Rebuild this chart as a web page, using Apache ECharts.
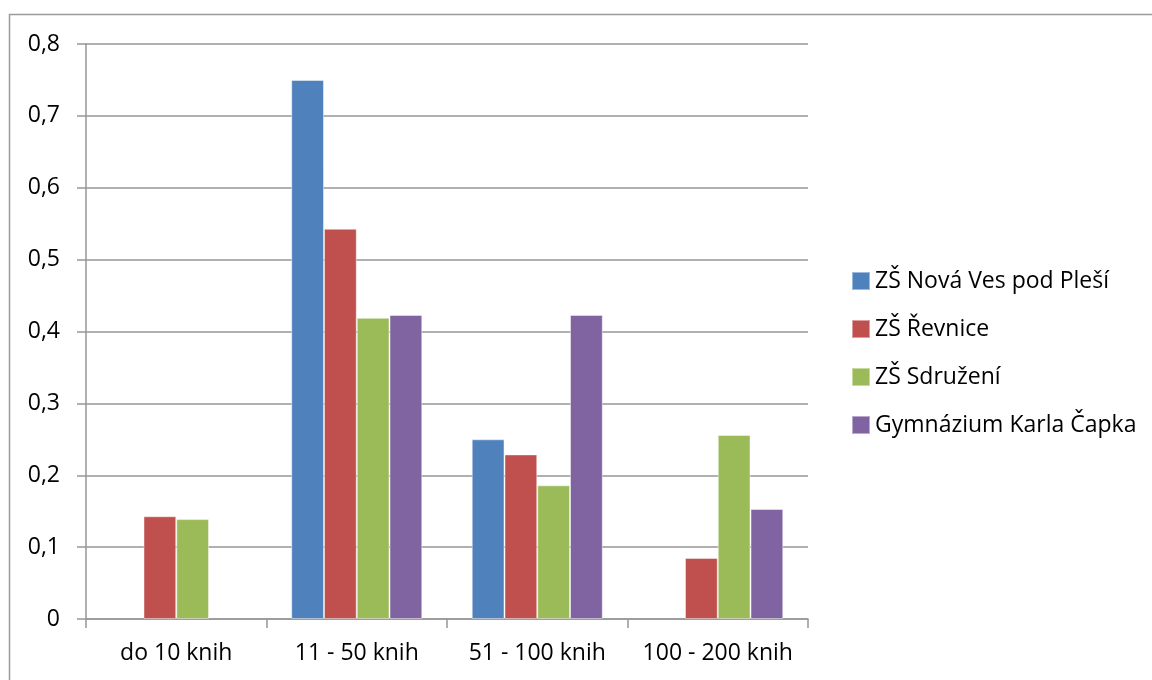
<!DOCTYPE html>
<html>
<head>
<meta charset="utf-8">
<script src="https://cdn.jsdelivr.net/npm/echarts@6/dist/echarts.min.js"></script>
<style>
html,body{margin:0;padding:0;background:#fff;}
#chart{width:1152px;height:680px;}
</style>
</head>
<body>
<div id="chart"></div>
<script>
const categories = ['do 10 knih', '11 - 50 knih', '51 - 100 knih', '100 - 200 knih'];
const seriesNames = ['ZŠ Nová Ves pod Pleší', 'ZŠ Řevnice', 'ZŠ Sdružení', 'Gymnázium Karla Čapka'];
const novaVes = [null, 0.75, 0.25, null];
const revnice = [0.143, 0.543, 0.229, 0.085];
const sdruzeni = [0.139, 0.419, 0.186, 0.256];
const gymnazium = [null, 0.423, 0.423, 0.153];
const yTicks = ['0', '0,1', '0,2', '0,3', '0,4', '0,5', '0,6', '0,7', '0,8'];
const colors = ['#4F81BD', '#C0504D', '#9BBB59', '#8064A2'];

const allValues = [novaVes, revnice, sdruzeni, gymnazium];
const FONT = 'Open Sans';

const chart = echarts.init(document.getElementById('chart'), null, {renderer: 'canvas'});
chart.setOption({
  animation: false,
  backgroundColor: '#fff',
  color: colors,
  textStyle: {fontFamily: FONT},
  grid: {left: 86, right: 344, top: 44, bottom: 61, containLabel: false},
  graphic: [{
    type: 'rect',
    shape: {x: 9.5, y: 14.5, width: 1200, height: 720},
    style: {fill: 'none', stroke: '#9a9a9a', lineWidth: 1.5},
    silent: true
  }],
  legend: {
    orient: 'vertical',
    left: 846,
    top: 264,
    itemWidth: 18,
    itemHeight: 18,
    itemGap: 24,
    icon: 'rect',
    data: seriesNames,
    textStyle: {fontFamily: FONT, fontSize: 23, color: '#000', lineHeight: 24}
  },
  xAxis: {
    type: 'category',
    data: categories,
    axisLine: {lineStyle: {color: '#969696', width: 1.5}},
    axisTick: {show: true, length: 9, alignWithLabel: false, lineStyle: {color: '#969696', width: 1.5}},
    axisLabel: {fontFamily: FONT, fontSize: 23, color: '#000', margin: 23, interval: 0},
    splitLine: {show: false}
  },
  yAxis: {
    type: 'value',
    min: 0,
    max: 0.8,
    interval: 0.1,
    axisLine: {show: true, lineStyle: {color: '#969696', width: 1.5}},
    axisTick: {show: true, inside: false, length: 9, lineStyle: {color: '#969696', width: 1.5}},
    axisLabel: {
      fontFamily: FONT, fontSize: 23, color: '#000', margin: 26,
      formatter: function (v) { return yTicks[Math.round(v * 10)]; }
    },
    splitLine: {show: true, lineStyle: {color: '#969696', width: 1.5}}
  },
  series: seriesNames.map(function (name, i) {
    return {
      name: name,
      type: 'bar',
      data: allValues[i],
      barGap: '0%',
      barCategoryGap: '27.4%',
      itemStyle: {color: colors[i], borderColor: 'rgba(255,255,255,0.45)', borderWidth: 1}
    };
  })
});
</script>
</body>
</html>
